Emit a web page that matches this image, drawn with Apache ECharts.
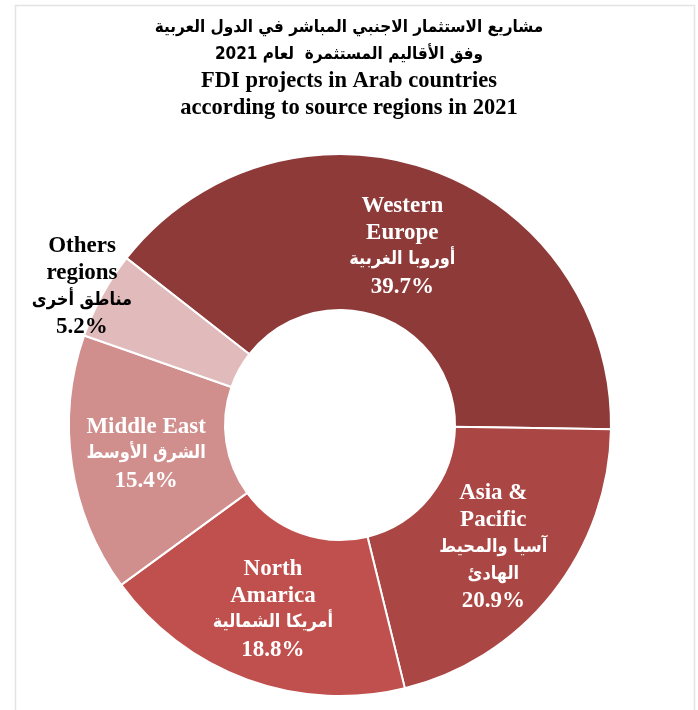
<!DOCTYPE html>
<html>
<head>
<meta charset="utf-8">
<script src="https://cdn.jsdelivr.net/npm/echarts@6/dist/echarts.min.js"></script>
<style>
  html, body { margin: 0; padding: 0; background: #fff; }
  #chart { width: 698px; height: 710px; }
</style>
</head>
<body>
<div id="chart"></div>
<script>
// FDI projects in Arab countries by source region, 2021 (share of projects, %)
const regionsEn = [['Western', 'Europe'], ['Asia &', 'Pacific'], ['North', 'Amarica'], ['Middle East'], ['Others', 'regions']];
const regionsAr = [['أوروبا الغربية'], ['آسيا والمحيط', 'الهادئ'], ['أمريكا الشمالية'], ['الشرق الأوسط'], ['مناطق أخرى']];
const shares = [39.7, 20.9, 18.8, 15.4, 5.2];
const sliceColors = ['#8E3A39', '#AA4644', '#C0504D', '#D08E8D', '#E1BBBB'];

const titleAr = ['مشاريع الاستثمار الاجنبي المباشر في الدول العربية', 'وفق الأقاليم المستثمرة  لعام 2021'];
const titleEn = ['FDI projects in Arab countries', 'according to source regions in 2021'];

const latinFont = '"Liberation Serif", "Times New Roman", serif';
const arabicFont = '"DejaVu Sans Condensed", "DejaVu Sans", sans-serif';

const tag = (style, lines) => lines.map(l => '{' + style + '|' + l + '}').join('\n');

const data = shares.map((v, i) => {
  const item = {
    name: regionsEn[i].join(' '),
    value: v,
    idx: i,
    itemStyle: { color: sliceColors[i] }
  };
  if (i === 0) {
    item.label = { offset: [-3, 6] };
  }
  // the small last slice carries its label outside the ring, in black
  if (i === shares.length - 1) {
    item.label = {
      offset: [-86, -44],
      rich: {
        en: { color: '#000' },
        ar: { color: '#000' }
      }
    };
  }
  return item;
});

const chart = echarts.init(document.getElementById('chart'), null, { renderer: 'canvas' });
chart.setOption({
  backgroundColor: '#fff',
  animation: false,
  title: {
    text: tag('ar', titleAr) + '\n' + tag('en', titleEn),
    left: 'center',
    top: 9,
    textStyle: {
      fontFamily: latinFont,
      fontWeight: 'bold',
      fontSize: 22.5,
      lineHeight: 27,
      color: '#000',
      rich: {
        ar: { fontFamily: arabicFont, fontWeight: 'bold', fontSize: 17, lineHeight: 27, color: '#000' },
        en: { fontFamily: latinFont, fontWeight: 'bold', fontSize: 22.5, lineHeight: 27, color: '#000' }
      }
    }
  },
  graphic: [{
    type: 'rect',
    silent: true,
    shape: { x: 15.5, y: 5.5, width: 679, height: 730 },
    style: { fill: null, stroke: '#e3e3e3', lineWidth: 1.5 }
  }],
  series: [{
    type: 'pie',
    center: [340, 425],
    radius: [115, 271],
    startAngle: 142,
    clockwise: true,
    avoidLabelOverlap: false,
    emphasis: { disabled: true },
    itemStyle: { borderColor: '#fff', borderWidth: 2 },
    label: {
      show: true,
      position: 'inside',
      color: '#fff',
      align: 'center',
      lineHeight: 27,
      formatter: p => {
        const i = p.data.idx;
        return tag('en', regionsEn[i]) + '\n' + tag('ar', regionsAr[i]) + '\n' +
          tag('en', [p.value.toFixed(1) + '%']);
      },
      rich: {
        en: { fontFamily: latinFont, fontWeight: 'bold', fontSize: 23, lineHeight: 27, color: '#fff', align: 'center' },
        ar: { fontFamily: arabicFont, fontWeight: 'bold', fontSize: 18, lineHeight: 27, color: '#fff', align: 'center' }
      }
    },
    labelLine: { show: false },
    data: data
  }]
});
</script>
</body>
</html>
